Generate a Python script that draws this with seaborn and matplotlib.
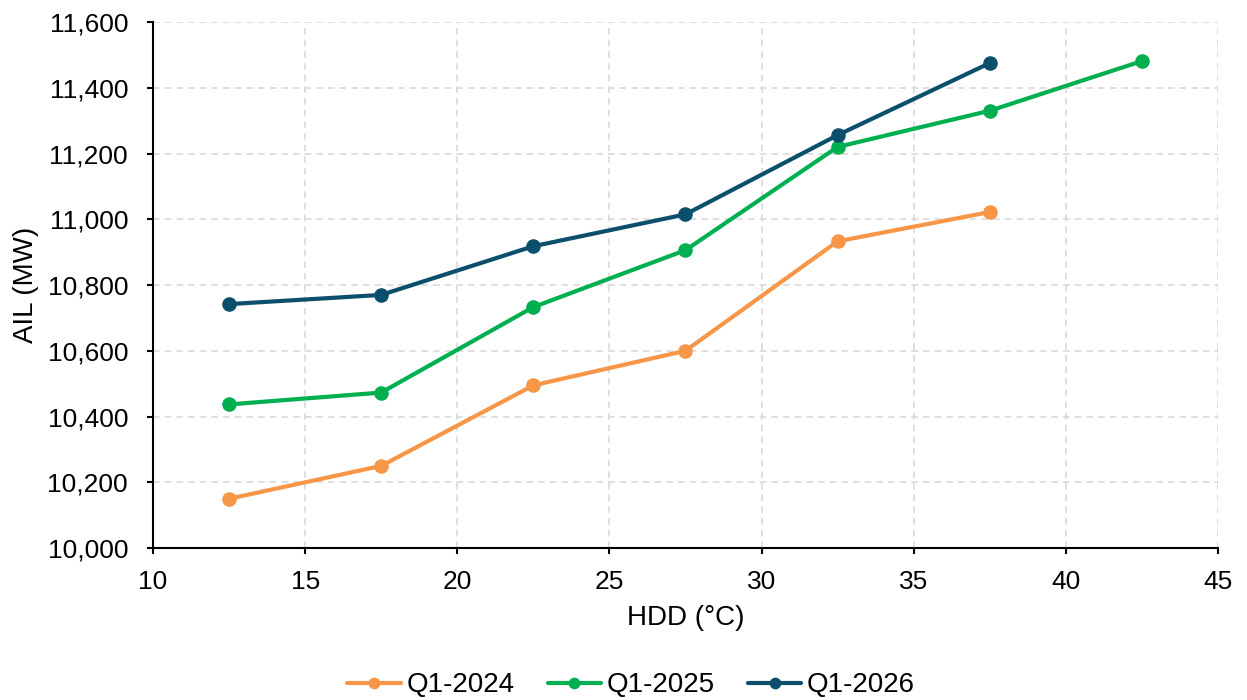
import matplotlib
matplotlib.use("Agg")
import matplotlib.pyplot as plt
import seaborn as sns
import pandas as pd
from matplotlib.ticker import FuncFormatter, MultipleLocator

# HDD bins (°C) and average AIL (MW) per quarter
hdd = [12.5, 17.5, 22.5, 27.5, 32.5, 37.5, 42.5]
q1_2024 = [10150, 10250, 10495, 10600, 10933, 11022]
q1_2025 = [10437, 10473, 10733, 10906, 11220, 11330, 11481]
q1_2026 = [10742, 10770, 10918, 11015, 11256, 11475]
series_names = ["Q1-2024", "Q1-2025", "Q1-2026"]
colors = ["#F79646", "#00B050", "#0B4F6C"]

rows = []
for name, vals in zip(series_names, [q1_2024, q1_2025, q1_2026]):
    for x, y in zip(hdd, vals):
        rows.append({"HDD": x, "AIL": y, "Series": name})
df = pd.DataFrame(rows)

sns.set_theme(style="white")
plt.rcParams["font.family"] = ["Liberation Sans", "DejaVu Sans"]

fig = plt.figure(figsize=(12.47, 7.0), dpi=100)
ax = fig.add_axes([0.1227, 0.217, 0.854, 0.7516])

sns.lineplot(data=df, x="HDD", y="AIL", hue="Series", hue_order=series_names,
             palette=colors, marker="o", markersize=10.5, markeredgewidth=0,
             linewidth=3, ax=ax, legend=True, clip_on=False)

ax.set_xlim(10, 45)
ax.set_ylim(10000, 11600)
ax.xaxis.set_major_locator(MultipleLocator(5))
ax.yaxis.set_major_locator(MultipleLocator(200))
ax.yaxis.set_major_formatter(FuncFormatter(lambda v, p: f"{v:,.0f}"))

ax.grid(True, linestyle=(0, (4, 3)), color="#D9D9D9", linewidth=1.2)
ax.set_axisbelow(True)
for s in ["top", "right"]:
    ax.spines[s].set_visible(False)
for s in ["left", "bottom"]:
    ax.spines[s].set_color("black")
    ax.spines[s].set_linewidth(1.5)
ax.tick_params(axis="both", which="major", direction="out", length=4.5, width=1.5,
               color="black", labelsize=19, labelcolor="black",
               left=True, bottom=True)
ax.tick_params(axis="y", pad=13.5)
ax.tick_params(axis="x", pad=11.5)

ax.set_xlabel("HDD (°C)", fontsize=20, color="black", labelpad=8)
ax.set_ylabel("AIL (MW)", fontsize=20, color="black", labelpad=6)

handles, labels = ax.get_legend_handles_labels()
ax.legend_.remove()
fig.legend(handles, labels, loc="center", bbox_to_anchor=(0.506, 0.021),
           ncol=3, frameon=False, fontsize=20, labelcolor="black",
           handlelength=1.94, handletextpad=0.18, columnspacing=1.19,
           markerscale=0.8)

fig.savefig("out.png", dpi=100)
